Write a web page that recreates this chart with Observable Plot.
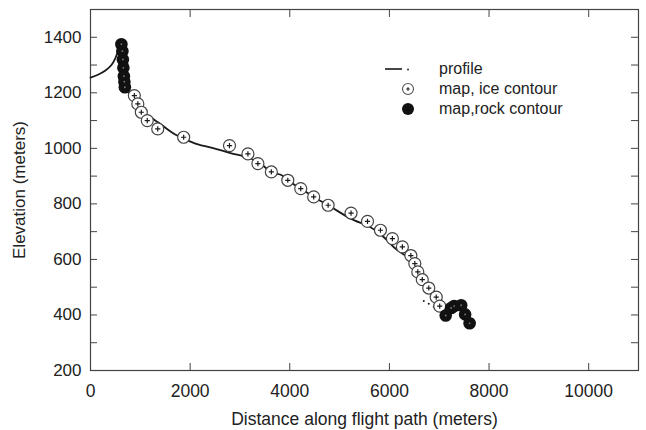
<!DOCTYPE html>
<html><head><meta charset="utf-8">
<script src="https://cdn.jsdelivr.net/npm/d3@7"></script>
<script src="https://cdn.jsdelivr.net/npm/@observablehq/plot@0.6"></script>
<style>
html,body{margin:0;padding:0;background:#fff;}
#chart{position:relative;width:646px;height:430px;font-family:"Liberation Sans",Arial,sans-serif;}
#legend{position:absolute;left:380px;top:59px;font-size:16px;color:#222;}
.row{display:flex;align-items:center;height:20px;white-space:nowrap;}
.row svg{width:54px;height:20px;margin-right:5px;flex:none}
</style></head><body><div id="chart"><div id="legend"></div></div>
<script>
// ---- data ----
const profileDist = [0,150,300,420,500,570,610,650,690,730,800,900,1000,1100,1200,1300,1400,1550,1700,1870,2140,2480,2810,3150,3410,3650,3820,4000,4220,4480,4820,5220,5620,5890,6090,6360,6490,6560,6620];
const profileElev = [1255,1265,1280,1300,1325,1360,1378,1340,1260,1215,1190,1160,1130,1110,1113,1100,1088,1068,1050,1035,1015,1000,983,968,945,912,905,880,855,825,790,747,716,680,644,608,584,548,515];
const profileTailDist = [6690,6790,6890,6990];
const profileTailElev = [450,440,430,416];
const iceDist = [880,950,1020,1140,1350,1870,2790,3160,3360,3630,3960,4220,4480,4770,5230,5560,5820,6060,6260,6430,6510,6570,6660,6790,6940,7010];
const iceElev = [1190,1160,1130,1100,1070,1040,1010,980,945,915,885,855,825,795,767,737,705,675,645,614,585,555,527,497,464,432];
const rockDist = [620,640,650,660,670,680,690,7130,7240,7300,7440,7520,7610];
const rockElev = [1375,1350,1320,1290,1260,1240,1220,398,425,432,435,402,370];
const xTicks = [0,2000,4000,6000,8000,10000];
const yTicks = [200,400,600,800,1000,1200,1400];
const yMinorTicks = [300,500,700,900,1100,1300];
const legendLabels = ["profile","map, ice contour","map,rock contour"];
const xLabel = "Distance along flight path (meters)";
const yLabel = "Elevation (meters)";

const profile = profileDist.map((d,i)=>({d, e: profileElev[i]}));
const tail = profileTailDist.map((d,i)=>({d, e: profileTailElev[i]}));
const ice = iceDist.map((d,i)=>({d, e: iceElev[i]}));
const rock = rockDist.map((d,i)=>({d, e: rockElev[i]}));

const ink = "#1a1a1a";
const plot = Plot.plot({
  width: 646, height: 430,
  marginLeft: 90, marginRight: 8, marginTop: 9, marginBottom: 60,
  style: {fontFamily: '"Liberation Sans", Arial, sans-serif', fontSize: "16.5px", color: "#222", background: "#fff"},
  x: {domain: [0, 11000], axis: null},
  y: {domain: [200, 1500], axis: null},
  marks: [
    Plot.frame({stroke: "#444", strokeWidth: 1.2}),
    Plot.axisX(xTicks, {anchor: "bottom", tickSize: -7, tickPadding: 21, tickFormat: d => String(d), stroke: "#444",
      label: xLabel, labelAnchor: "center", labelArrow: "none", labelOffset: 54, fontSize: 17.5}),
    Plot.axisX(xTicks, {anchor: "top", tickSize: -7, tickFormat: () => "", stroke: "#444", label: null}),
    Plot.axisY(yTicks, {anchor: "left", tickSize: -7, tickPadding: 16, tickFormat: d => String(d), stroke: "#444",
      label: yLabel, labelAnchor: "center", labelArrow: "none", labelOffset: 78, fontSize: 17}),
    Plot.axisY(yMinorTicks, {anchor: "left", tickSize: -7, tickFormat: () => "", stroke: "#444", label: null}),
    Plot.axisY(yTicks.concat(yMinorTicks), {anchor: "right", tickSize: -8, tickFormat: () => "", stroke: "#444", label: null}),
    Plot.line(profile, {x: "d", y: "e", stroke: ink, strokeWidth: 1.8, curve: "catmull-rom"}),
    Plot.dot(tail, {x: "d", y: "e", r: 1, fill: ink}),
    Plot.dot(ice, {x: "d", y: "e", r: 6, fill: "#fff", stroke: "#444", strokeWidth: 1.2}),
    Plot.dot(ice, {x: "d", y: "e", r: 1.8, symbol: "plus", stroke: ink, strokeWidth: 1.2}),
    Plot.dot(rock, {x: "d", y: "e", r: 6.3, fill: "#111"}),
    Plot.dot(rock, {x: "d", y: "e", r: 0.9, fill: "#777"})
  ]
});
document.getElementById("chart").insertBefore(plot, document.getElementById("legend"));

const syms = [
  '<line x1="5" y1="10" x2="22" y2="10" stroke="#1a1a1a" stroke-width="1.6"/><circle cx="28" cy="10.5" r="0.9" fill="#1a1a1a"/>',
  '<circle cx="28" cy="10" r="5.5" fill="#fff" stroke="#555" stroke-width="1.1"/><path d="M26.3,10H29.7M28,8.3V11.7" stroke="#1a1a1a" stroke-width="1.1"/>',
  '<circle cx="28" cy="10" r="6" fill="#111"/>'
];
const lg = document.getElementById("legend");
legendLabels.forEach((t,i) => {
  const row = document.createElement("div");
  row.className = "row";
  row.innerHTML = `<svg viewBox="0 0 54 20">${syms[i]}</svg><span>${t}</span>`;
  lg.appendChild(row);
});
</script>
</body></html>
